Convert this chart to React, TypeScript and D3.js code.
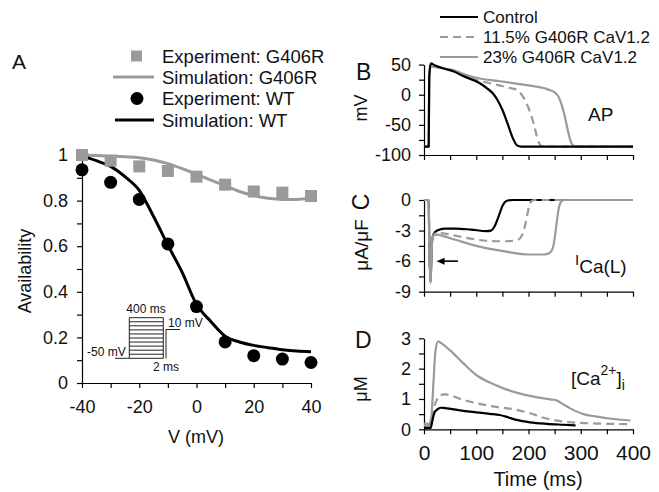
import React, { useEffect, useRef } from "react";
import * as d3 from "d3";

const W = 659;
const H = 492;
const FONT = "Liberation Sans, Arial, Helvetica, sans-serif";
const GRAY = "#9a9a9a";

// Panel A: availability vs voltage
const voltages = [-40, -30, -20, -10, 0, 10, 20, 30, 40];
const expG406R = [1.0, 0.975, 0.95, 0.93, 0.905, 0.87, 0.84, 0.835, 0.82];
const expWT = [0.935, 0.88, 0.805, 0.61, 0.335, 0.18, 0.12, 0.105, 0.09];
const simV = [-40, -35, -30, -25, -20, -15, -10, -5, 0, 5, 10, 15, 20, 25, 30, 35, 40];
const simG406R = [1.0, 0.998, 0.995, 0.992, 0.988, 0.978, 0.962, 0.94, 0.915, 0.89, 0.865, 0.84, 0.822, 0.81, 0.805, 0.805, 0.81];
const simWT = [0.995, 0.975, 0.95, 0.905, 0.845, 0.73, 0.605, 0.485, 0.345, 0.27, 0.205, 0.18, 0.165, 0.155, 0.146, 0.14, 0.137];
const aXTicks = [-40, -30, -20, -10, 0, 10, 20, 30, 40];
const aXLabels = [-40, -20, 0, 20, 40];
const aYTicks = [0, 0.1, 0.2, 0.3, 0.4, 0.5, 0.6, 0.7, 0.8, 0.9, 1];
const aYLabels = [0, 0.2, 0.4, 0.6, 0.8, 1];

// Panel B: action potential (mV)
const apCtrlT = [0, 9, 10, 13, 20, 40, 56, 75, 107, 120, 132, 140, 150, 160, 170, 178, 186, 400];
const apCtrlV = [-86, -86, 30, 52, 49, 43, 39, 31, 19, 11, 2, -8, -25, -48, -72, -84, -86, -86];
const apMidT = [0, 9, 10, 13, 20, 40, 56, 75, 107, 132, 160, 178, 190, 200, 210, 218, 225, 232, 400];
const apMidV = [-86, -86, 30, 51, 48, 43, 39, 32, 23, 18, 12, 8, -4, -22, -48, -75, -85, -86, -86];
const apHighT = [0, 9, 10, 13, 20, 40, 56, 80, 107, 140, 180, 203, 240, 250, 258, 264, 270, 276, 282, 290, 400];
const apHighV = [-86, -86, 30, 47, 46, 43, 41, 33, 27, 23, 18, 15, 8, 4, -4, -18, -38, -62, -80, -86, -86];
const bYTicks = [-100, -75, -50, -25, 0, 25, 50];
const bYLabels = [-100, -50, 0, 50];

// Panel C: L-type Ca current (uA/uF)
const icaCtrlT = [0, 9, 10, 12.5, 15, 18, 25, 40, 60, 90, 120, 128, 135, 140, 145, 150, 155, 160, 170, 400];
const icaCtrlV = [0, 0, -4, -8.1, -4.3, -3.4, -3.0, -2.8, -2.8, -2.9, -3.05, -3.0, -2.6, -2.0, -1.3, -0.6, -0.2, -0.05, 0, 0];
const icaMidT = [0, 9, 10, 12.5, 15, 18, 25, 40, 60, 90, 120, 150, 170, 180, 186, 192, 197, 202, 206, 212, 400];
const icaMidV = [0, 0, -4, -8.1, -4.3, -3.5, -3.2, -3.3, -3.5, -3.8, -4.0, -4.05, -4.0, -3.9, -3.6, -2.8, -1.6, -0.5, -0.1, 0, 0];
const icaHighT = [0, 9, 10, 12.5, 15, 18, 25, 40, 60, 100, 150, 200, 230, 240, 246, 250, 254, 258, 262, 268, 400];
const icaHighV = [0, 0, -4, -8.1, -4.3, -3.5, -3.4, -3.6, -3.9, -4.5, -5.0, -5.35, -5.35, -5.2, -4.8, -3.8, -2.2, -0.8, -0.2, 0, 0];
const cYTicks = [-9, -7.5, -6, -4.5, -3, -1.5, 0];
const cYLabels = [-9, -6, -3, 0];

// Panel D: intracellular Ca (uM)
const caCtrlT = [0, 13, 15, 20, 25, 32, 40, 75, 100, 126, 145, 160, 177, 203, 235, 267, 290];
const caCtrlV = [0.05, 0.05, 0.2, 0.55, 0.65, 0.71, 0.7, 0.61, 0.56, 0.51, 0.47, 0.4, 0.31, 0.23, 0.18, 0.15, 0.13];
const caMidT = [0, 11, 14, 18, 24, 30, 40, 75, 126, 177, 203, 229, 250, 267, 300, 331, 395];
const caMidV = [0.12, 0.12, 0.3, 0.65, 0.95, 1.12, 1.15, 0.97, 0.77, 0.64, 0.53, 0.38, 0.3, 0.25, 0.21, 0.19, 0.17];
const caHighT = [0, 10, 14, 18, 22, 27, 32, 50, 75, 100, 126, 152, 177, 203, 229, 245, 254, 262, 280, 305, 331, 363, 395];
const caHighV = [0.18, 0.18, 0.4, 1.5, 2.6, 2.9, 2.85, 2.6, 2.18, 1.79, 1.54, 1.35, 1.21, 1.1, 1.02, 0.98, 0.95, 0.87, 0.69, 0.5, 0.42, 0.34, 0.29];
const dYTicks = [0, 0.5, 1, 1.5, 2, 2.5, 3];
const dYLabels = [0, 1, 2, 3];
const timeTicks = [0, 50, 100, 150, 200, 250, 300, 350, 400];
const timeLabels = [0, 100, 200, 300, 400];

const legendA = ["Experiment: G406R", "Simulation: G406R", "Experiment: WT", "Simulation: WT"];
const legendB = ["Control", "11.5% G406R CaV1.2", "23% G406R CaV1.2"];

function styleAxis(g: any, fs: number) {
  g.attr("font-family", FONT).attr("font-size", fs);
  g.select(".domain").attr("stroke", "#000").attr("stroke-width", 1.2);
  g.selectAll(".tick line").attr("stroke", "#000").attr("stroke-width", 1.2);
  g.selectAll(".tick text").attr("fill", "#111");
}

function labelOnly(labels: number[]) {
  return (d: any) => (labels.some((l) => Math.abs(l - d) < 1e-9) ? String(d) : "");
}

export default function App() {
  const ref = useRef<SVGSVGElement>(null);

  useEffect(() => {
    const svg = d3.select(ref.current);
    svg.selectAll("*").remove();

    // ---------- Panel A ----------
    const xA = d3.scaleLinear().domain([-40, 40]).range([82, 311]);
    const yA = d3.scaleLinear().domain([0, 1]).range([383, 155]);

    const axA = svg.append("g").attr("transform", "translate(0,383)");
    axA.call(
      d3.axisBottom(xA).tickValues(aXTicks).tickSize(5).tickSizeOuter(0).tickPadding(12).tickFormat(labelOnly(aXLabels))
    );
    styleAxis(axA, 18);
    const ayA = svg.append("g").attr("transform", "translate(82,0)");
    ayA.call(
      d3.axisLeft(yA).tickValues(aYTicks).tickSize(5).tickSizeOuter(0).tickPadding(9).tickFormat(labelOnly(aYLabels))
    );
    styleAxis(ayA, 18);

    svg.append("text").attr("x", 196).attr("y", 443).attr("text-anchor", "middle")
      .attr("font-family", FONT).attr("font-size", 18).attr("fill", "#111").text("V (mV)");
    svg.append("text").attr("transform", "translate(25,271) rotate(-90)").attr("dy", "0.35em")
      .attr("text-anchor", "middle").attr("font-family", FONT).attr("font-size", 18).attr("fill", "#111").text("Availability");
    svg.append("text").attr("x", 12).attr("y", 69).attr("font-family", FONT).attr("font-size", 21).attr("fill", "#111").text("A");

    const lineA = d3.line<[number, number]>().x((d) => xA(d[0])).y((d) => yA(d[1])).curve(d3.curveMonotoneX);
    svg.append("path").datum(simV.map((v, i) => [v, simG406R[i]] as [number, number]))
      .attr("d", lineA).attr("fill", "none").attr("stroke", GRAY).attr("stroke-width", 3);
    svg.append("path").datum(simV.map((v, i) => [v, simWT[i]] as [number, number]))
      .attr("d", lineA).attr("fill", "none").attr("stroke", "#000").attr("stroke-width", 3);

    svg.append("g").selectAll("rect").data(voltages).enter().append("rect")
      .attr("x", (d) => xA(d) - 6).attr("y", (d, i) => yA(expG406R[i]) - 6)
      .attr("width", 12).attr("height", 12).attr("fill", GRAY);
    svg.append("g").selectAll("circle").data(voltages).enter().append("circle")
      .attr("cx", (d) => xA(d)).attr("cy", (d, i) => yA(expWT[i])).attr("r", 6.5).attr("fill", "#000");

    // legend A
    const lgA = svg.append("g").attr("font-family", FONT).attr("font-size", 18.5).attr("fill", "#111");
    const lgRowY = [56, 77, 98.5, 120];
    legendA.forEach((t, i) => {
      lgA.append("text").attr("x", 162).attr("y", lgRowY[i] + 6.5).text(t);
    });
    lgA.append("rect").attr("x", 131).attr("y", lgRowY[0] - 5.5).attr("width", 11).attr("height", 11).attr("fill", GRAY);
    lgA.append("line").attr("x1", 113).attr("x2", 154).attr("y1", lgRowY[1]).attr("y2", lgRowY[1]).attr("stroke", GRAY).attr("stroke-width", 3);
    lgA.append("circle").attr("cx", 137).attr("cy", lgRowY[2]).attr("r", 6.5).attr("fill", "#000");
    lgA.append("line").attr("x1", 115).attr("x2", 154).attr("y1", lgRowY[3]).attr("y2", lgRowY[3]).attr("stroke", "#000").attr("stroke-width", 3);

    // voltage protocol inset
    const ins = svg.append("g").attr("stroke", "#222").attr("stroke-width", 1).attr("fill", "none");
    const insTop = 317.7;
    const insBot = 358.3;
    const levels = 11;
    ins.append("line").attr("x1", 115).attr("x2", 129.3).attr("y1", insBot).attr("y2", insBot);
    ins.append("line").attr("x1", 129.3).attr("x2", 129.3).attr("y1", insBot).attr("y2", insTop);
    for (let k = 0; k < levels; k++) {
      const y = insTop + ((insBot - insTop) * k) / (levels - 1);
      ins.append("line").attr("x1", 129.3).attr("x2", 163.3).attr("y1", y).attr("y2", y);
    }
    ins.append("line").attr("x1", 163.3).attr("x2", 163.3).attr("y1", insTop).attr("y2", insBot);
    ins.append("line").attr("x1", 166).attr("x2", 166).attr("y1", insBot).attr("y2", 329.5);
    ins.append("line").attr("x1", 166).attr("x2", 180).attr("y1", 329.5).attr("y2", 329.5);
    const insT = svg.append("g").attr("font-family", FONT).attr("font-size", 12).attr("fill", "#111");
    insT.append("text").attr("x", 146).attr("y", 313).attr("text-anchor", "middle").text("400 ms");
    insT.append("text").attr("x", 168).attr("y", 327).text("10 mV");
    insT.append("text").attr("x", 87).attr("y", 356).text("-50 mV");
    insT.append("text").attr("x", 153).attr("y", 371).text("2 ms");

    // ---------- Panels B, C, D ----------
    const xT = d3.scaleLinear().domain([0, 400]).range([424, 633]);
    const yB = d3.scaleLinear().domain([-100, 50]).range([155, 64.6]);
    const yC = d3.scaleLinear().domain([-9, 0]).range([291.7, 200]);
    const yD = d3.scaleLinear().domain([0, 3]).range([429.3, 338.3]);

    const panel = (y: any, yTicks: number[], yLabels: number[], bottom: number, withX: boolean) => {
      const gx = svg.append("g").attr("transform", `translate(0,${bottom})`);
      gx.call(
        d3.axisBottom(xT).tickValues(timeTicks).tickSize(5).tickSizeOuter(0).tickPadding(11)
          .tickFormat(withX ? labelOnly(timeLabels) : () => "")
      );
      styleAxis(gx, 21);
      const gy = svg.append("g").attr("transform", "translate(424,0)");
      gy.call(d3.axisLeft(y).tickValues(yTicks).tickSize(5).tickSizeOuter(0).tickPadding(8).tickFormat(labelOnly(yLabels)));
      styleAxis(gy, 18);
    };
    panel(yB, bYTicks, bYLabels, 155, false);
    panel(yC, cYTicks, cYLabels, 291.7, false);
    panel(yD, dYTicks, dYLabels, 429.3, true);

    const trace = (ts: number[], vs: number[], y: any, color: string, dash: string | null) => {
      const ln = d3.line<number>().x((d) => xT(d)).y((d, i) => y(vs[i])).curve(d3.curveMonotoneX);
      const p = svg.append("path").datum(ts).attr("d", ln).attr("fill", "none")
        .attr("stroke", color).attr("stroke-width", 2.2).attr("stroke-linejoin", "round");
      if (dash) p.attr("stroke-dasharray", dash);
    };
    trace(apHighT, apHighV, yB, GRAY, null);
    trace(apMidT, apMidV, yB, GRAY, "8,5");
    trace(apCtrlT, apCtrlV, yB, "#000", null);
    trace(icaCtrlT, icaCtrlV, yC, "#000", null);
    trace(icaMidT, icaMidV, yC, GRAY, "8,5");
    trace(icaHighT, icaHighV, yC, GRAY, null);
    trace(caHighT, caHighV, yD, GRAY, null);
    trace(caMidT, caMidV, yD, GRAY, "8,5");
    trace(caCtrlT, caCtrlV, yD, "#000", null);

    // legend B
    const lgB = svg.append("g").attr("font-family", FONT).attr("font-size", 17).attr("fill", "#111");
    const lgBY = [17, 37, 57];
    const lgBStyle = [["#000", null], [GRAY, "8,5"], [GRAY, null]];
    legendB.forEach((t, i) => {
      const l = lgB.append("line").attr("x1", 440).attr("x2", 478).attr("y1", lgBY[i]).attr("y2", lgBY[i])
        .attr("stroke", lgBStyle[i][0] as string).attr("stroke-width", 2.2);
      if (lgBStyle[i][1]) l.attr("stroke-dasharray", lgBStyle[i][1] as string);
      lgB.append("text").attr("x", 483).attr("y", lgBY[i] + 6).text(t);
    });

    // panel labels and annotations
    const txt = svg.append("g").attr("font-family", FONT).attr("fill", "#111");
    txt.append("text").attr("x", 356).attr("y", 80).attr("font-size", 23).text("B");
    txt.append("text").attr("x", 355).attr("y", 348).attr("font-size", 23).text("D");
    txt.append("text").attr("transform", "translate(361,202) rotate(-90)").attr("dy", "0.35em")
      .attr("text-anchor", "middle").attr("font-size", 23).text("C");
    txt.append("text").attr("transform", "translate(361,245) rotate(-90)").attr("dy", "0.35em")
      .attr("text-anchor", "middle").attr("font-size", 19).text("\u03bcA/\u03bcF");
    txt.append("text").attr("transform", "translate(361,108) rotate(-90)").attr("dy", "0.35em")
      .attr("text-anchor", "middle").attr("font-size", 18).text("mV");
    txt.append("text").attr("transform", "translate(361,389) rotate(-90)").attr("dy", "0.35em")
      .attr("text-anchor", "middle").attr("font-size", 18).text("\u03bcM");
    txt.append("text").attr("x", 588).attr("y", 121).attr("font-size", 19).text("AP");
    txt.append("text").attr("x", 538).attr("y", 486).attr("text-anchor", "middle").attr("font-size", 20).text("Time (ms)");

    const ica = txt.append("text").attr("x", 575).attr("y", 265).attr("font-size", 15);
    ica.append("tspan").text("I");
    ica.append("tspan").attr("font-size", 19).attr("dy", 8).text("Ca(L)");

    const caT = txt.append("text").attr("x", 571).attr("y", 385).attr("font-size", 19);
    caT.append("tspan").text("[Ca");
    caT.append("tspan").attr("font-size", 14).attr("dy", -10).text("2+");
    caT.append("tspan").attr("dy", 10).text("]");
    caT.append("tspan").attr("font-size", 14).attr("dy", 5).text("i");

    // arrow pointing at the ICa spike
    const ay = yC(-6);
    svg.append("line").attr("x1", xT(65)).attr("x2", xT(30)).attr("y1", ay).attr("y2", ay)
      .attr("stroke", "#000").attr("stroke-width", 1.6);
    svg.append("path")
      .attr("d", `M${xT(24)},${ay} L${xT(24) + 8},${ay - 3.5} L${xT(24) + 8},${ay + 3.5} Z`)
      .attr("fill", "#000");
  }, []);

  return (
    <svg
      ref={ref}
      width={W}
      height={H}
      style={{ position: "absolute", left: 0, top: 0, background: "#fff" }}
    />
  );
}
